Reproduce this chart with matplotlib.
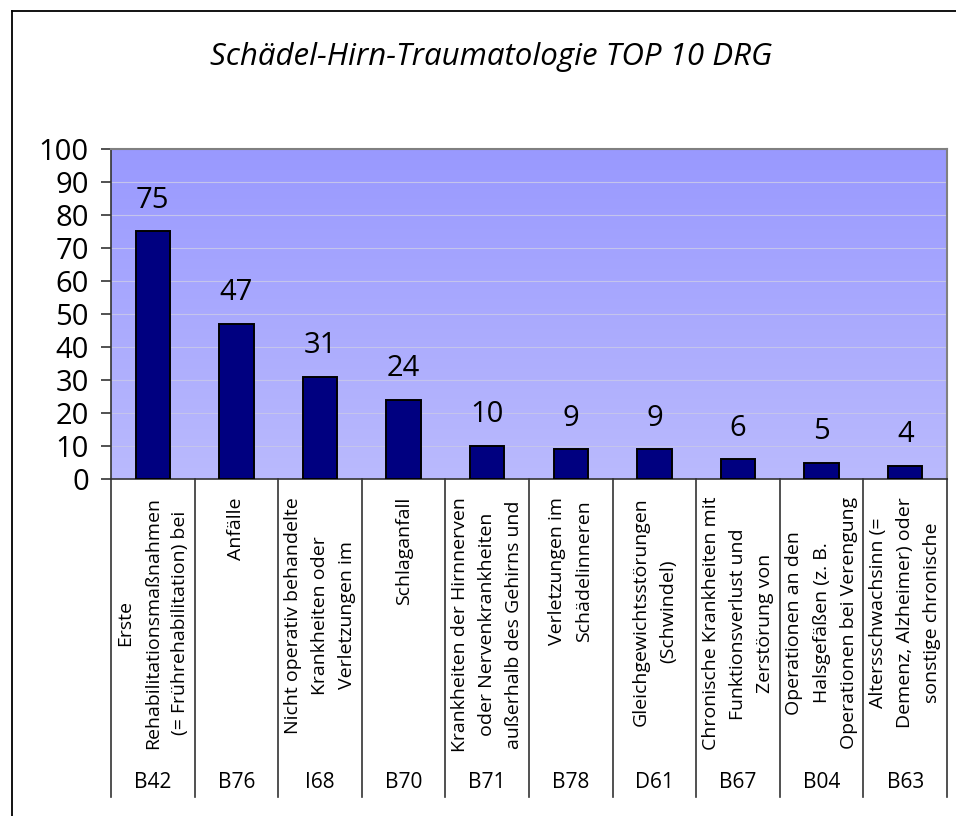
import matplotlib
matplotlib.use('Agg')
import matplotlib.pyplot as plt
from matplotlib.colors import LinearSegmentedColormap
from matplotlib.lines import Line2D
from matplotlib.transforms import blended_transform_factory
import numpy as np

plt.rcParams['font.family'] = ['Open Sans', 'DejaVu Sans']

title = 'Schädel-Hirn-Traumatologie TOP 10 DRG'
codes = ['B42', 'B76', 'I68', 'B70', 'B71', 'B78', 'D61', 'B67', 'B04', 'B63']
names = [
    'Erste\nRehabilitationsmaßnahmen\n(= Frührehabilitation) bei',
    'Anfälle',
    'Nicht operativ behandelte\nKrankheiten oder\nVerletzungen im',
    'Schlaganfall',
    'Krankheiten der Hirnnerven\noder Nervenkrankheiten\naußerhalb des Gehirns und',
    'Verletzungen im\nSchädelinneren',
    'Gleichgewichtsstörungen\n(Schwindel)',
    'Chronische Krankheiten mit\nFunktionsverlust und\nZerstörung von',
    'Operationen an den\nHalsgefäßen (z. B.\nOperationen bei Verengung',
    'Altersschwachsinn (=\nDemenz, Alzheimer) oder\nsonstige chronische',
]
values = [75, 47, 31, 24, 10, 9, 9, 6, 5, 4]
yticks = list(range(0, 101, 10))

W, H = 956, 816
fig = plt.figure(figsize=(W / 100, H / 100), dpi=100)

# plot area in pixels: x 111..947, y 149..479
ax = fig.add_axes([111 / W, 1 - 479 / H, 836 / W, 330 / H])

# gradient background like the excel fill
cmap = LinearSegmentedColormap.from_list('bg', ['#BABAFD', '#9999FF'])
grad = np.linspace(0, 1, 256).reshape(-1, 1)
ax.imshow(grad, extent=[0, 1, 0, 1], transform=ax.transAxes, aspect='auto',
          cmap=cmap, origin='lower', zorder=0)

x = np.arange(len(values))
ax.bar(x, values, width=0.41, color='#000080', edgecolor='black', linewidth=1.4, zorder=3)
for xi, v in zip(x, values):
    ax.annotate(str(v), (xi, v), xytext=(0, 17), textcoords='offset points',
                ha='center', va='baseline', fontsize=21)

ax.set_xlim(-0.5, len(values) - 0.5)
ax.set_ylim(0, 100)
ax.set_yticks(yticks)
ax.tick_params(axis='y', labelsize=21, length=7, width=1.2, color='#333333', pad=9)
ax.set_xticks([])
for yv in yticks[1:-1]:
    ax.axhline(yv, color='#C4C4EC', lw=0.8, zorder=1)

for s in ['top', 'right']:
    ax.spines[s].set_color('#808080')
    ax.spines[s].set_linewidth(1.5)
for s in ['left', 'bottom']:
    ax.spines[s].set_color('#333333')
    ax.spines[s].set_linewidth(1.2)

# multi-level category axis below the plot
tr = blended_transform_factory(ax.transData, fig.transFigure)
y_axis = 1 - 479 / H
y_sep_end = 1 - 797 / H
for b in np.arange(len(values) + 1) - 0.5:
    fig.add_artist(Line2D([b, b], [y_axis, y_sep_end], transform=tr,
                          color='#333333', lw=1.2))
for xi, name, code in zip(x, names, codes):
    fig.text(xi, 1 - 497 / H, name, transform=tr, rotation=90, ha='center', va='top',
             multialignment='center', fontsize=14, linespacing=1.66)
    fig.text(xi, 1 - 783 / H, code, transform=tr, ha='center', va='center', fontsize=15)

fig.text(491 / W, 1 - 57 / H, title, ha='center', va='center', fontsize=22.5, style='italic')

# outer chart frame (cut off at right and bottom)
fig.add_artist(Line2D([12 / W, 12 / W], [0, 1 - 11 / H], transform=fig.transFigure,
                      color='black', lw=1.3))
fig.add_artist(Line2D([12 / W, 1], [1 - 11 / H, 1 - 11 / H], transform=fig.transFigure,
                      color='black', lw=1.3))

fig.savefig('out.png', dpi=100)
